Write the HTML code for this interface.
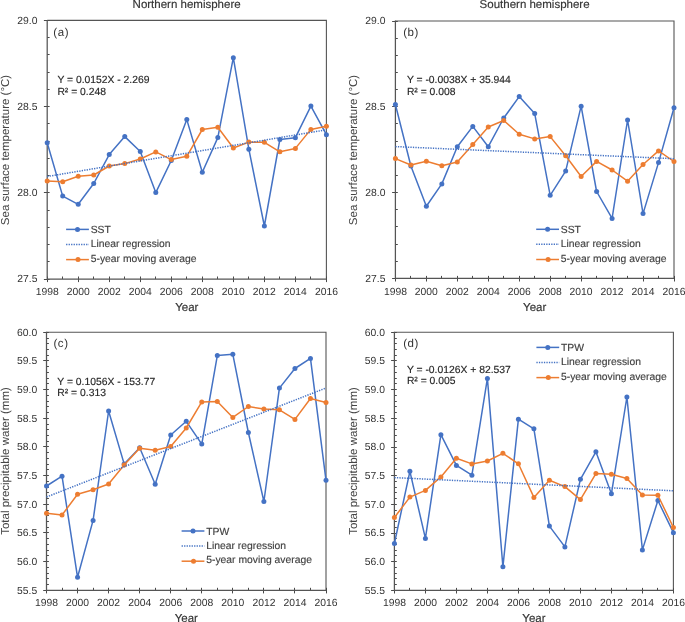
<!DOCTYPE html>
<html><head><meta charset="utf-8"><style>
html,body{margin:0;padding:0;background:#fff;width:685px;height:622px;overflow:hidden}
svg{display:block;font-family:"Liberation Sans", sans-serif;text-rendering:geometricPrecision;will-change:transform}
text{stroke-width:0.15px;stroke-linejoin:round;paint-order:stroke}
</style></head><body>
<svg width="685" height="622" viewBox="0 0 685 622">
<path d="M47.20,20.40H326.40V279.00" fill="none" stroke="#555555" stroke-width="1.1"/>
<path d="M43.90,20.50H49.60M47.20,37.50H49.60M47.20,54.50H49.60M47.20,72.50H49.60M47.20,89.50H49.60M43.90,106.50H49.60M47.20,123.50H49.60M47.20,141.50H49.60M47.20,158.50H49.60M47.20,175.50H49.60M43.90,192.50H49.60M47.20,210.50H49.60M47.20,227.50H49.60M47.20,244.50H49.60M47.20,261.50H49.60M43.90,279.50H49.60M47.50,276.50V282.10M62.50,276.50V279.00M78.50,276.50V282.10M93.50,276.50V279.00M109.50,276.50V282.10M124.50,276.50V279.00M140.50,276.50V282.10M155.50,276.50V279.00M171.50,276.50V282.10M186.50,276.50V279.00M202.50,276.50V282.10M217.50,276.50V279.00M233.50,276.50V282.10M248.50,276.50V279.00M264.50,276.50V282.10M279.50,276.50V279.00M295.50,276.50V282.10M310.50,276.50V279.00M326.50,276.50V282.10" fill="none" stroke="#4a4a4a" stroke-width="1"/>
<path d="M47.20,19.90V279.00H326.40" fill="none" stroke="#555555" stroke-width="1.25"/>
<text x="37.40" y="23.60" font-size="10.35" fill="#333333" text-anchor="end">29.0</text>
<text x="37.40" y="109.80" font-size="10.35" fill="#333333" text-anchor="end">28.5</text>
<text x="37.40" y="196.00" font-size="10.35" fill="#333333" text-anchor="end">28.0</text>
<text x="37.40" y="282.20" font-size="10.35" fill="#333333" text-anchor="end">27.5</text>
<text x="47.20" y="294.60" font-size="10.35" fill="#333333" text-anchor="middle">1998</text>
<text x="78.22" y="294.60" font-size="10.35" fill="#333333" text-anchor="middle">2000</text>
<text x="109.24" y="294.60" font-size="10.35" fill="#333333" text-anchor="middle">2002</text>
<text x="140.27" y="294.60" font-size="10.35" fill="#333333" text-anchor="middle">2004</text>
<text x="171.29" y="294.60" font-size="10.35" fill="#333333" text-anchor="middle">2006</text>
<text x="202.31" y="294.60" font-size="10.35" fill="#333333" text-anchor="middle">2008</text>
<text x="233.33" y="294.60" font-size="10.35" fill="#333333" text-anchor="middle">2010</text>
<text x="264.36" y="294.60" font-size="10.35" fill="#333333" text-anchor="middle">2012</text>
<text x="295.38" y="294.60" font-size="10.35" fill="#333333" text-anchor="middle">2014</text>
<text x="326.40" y="294.60" font-size="10.35" fill="#333333" text-anchor="middle">2016</text>
<polyline points="47.20,142.70 62.71,196.10 78.22,204.30 93.73,183.50 109.24,154.60 124.76,136.60 140.27,151.50 155.78,192.60 171.29,160.50 186.80,119.60 202.31,172.20 217.82,137.60 233.33,57.70 248.84,149.20 264.36,226.00 279.87,139.50 295.38,137.70 310.89,106.10 326.40,134.70" fill="none" stroke="#4472C4" stroke-width="1.5" stroke-linejoin="round"/>
<circle cx="47.20" cy="142.70" r="2.5" fill="#4472C4"/><circle cx="62.71" cy="196.10" r="2.5" fill="#4472C4"/><circle cx="78.22" cy="204.30" r="2.5" fill="#4472C4"/><circle cx="93.73" cy="183.50" r="2.5" fill="#4472C4"/><circle cx="109.24" cy="154.60" r="2.5" fill="#4472C4"/><circle cx="124.76" cy="136.60" r="2.5" fill="#4472C4"/><circle cx="140.27" cy="151.50" r="2.5" fill="#4472C4"/><circle cx="155.78" cy="192.60" r="2.5" fill="#4472C4"/><circle cx="171.29" cy="160.50" r="2.5" fill="#4472C4"/><circle cx="186.80" cy="119.60" r="2.5" fill="#4472C4"/><circle cx="202.31" cy="172.20" r="2.5" fill="#4472C4"/><circle cx="217.82" cy="137.60" r="2.5" fill="#4472C4"/><circle cx="233.33" cy="57.70" r="2.5" fill="#4472C4"/><circle cx="248.84" cy="149.20" r="2.5" fill="#4472C4"/><circle cx="264.36" cy="226.00" r="2.5" fill="#4472C4"/><circle cx="279.87" cy="139.50" r="2.5" fill="#4472C4"/><circle cx="295.38" cy="137.70" r="2.5" fill="#4472C4"/><circle cx="310.89" cy="106.10" r="2.5" fill="#4472C4"/><circle cx="326.40" cy="134.70" r="2.5" fill="#4472C4"/>
<polyline points="47.20,181.10 62.71,181.80 78.22,176.30 93.73,175.00 109.24,166.00 124.76,163.60 140.27,159.00 155.78,151.90 171.29,159.60 186.80,156.30 202.31,129.50 217.82,127.30 233.33,148.00 248.84,142.10 264.36,142.30 279.87,151.80 295.38,148.40 310.89,129.40 326.40,126.20" fill="none" stroke="#ED7D31" stroke-width="1.5" stroke-linejoin="round"/>
<circle cx="47.20" cy="181.10" r="2.5" fill="#ED7D31"/><circle cx="62.71" cy="181.80" r="2.5" fill="#ED7D31"/><circle cx="78.22" cy="176.30" r="2.5" fill="#ED7D31"/><circle cx="93.73" cy="175.00" r="2.5" fill="#ED7D31"/><circle cx="109.24" cy="166.00" r="2.5" fill="#ED7D31"/><circle cx="124.76" cy="163.60" r="2.5" fill="#ED7D31"/><circle cx="140.27" cy="159.00" r="2.5" fill="#ED7D31"/><circle cx="155.78" cy="151.90" r="2.5" fill="#ED7D31"/><circle cx="171.29" cy="159.60" r="2.5" fill="#ED7D31"/><circle cx="186.80" cy="156.30" r="2.5" fill="#ED7D31"/><circle cx="202.31" cy="129.50" r="2.5" fill="#ED7D31"/><circle cx="217.82" cy="127.30" r="2.5" fill="#ED7D31"/><circle cx="233.33" cy="148.00" r="2.5" fill="#ED7D31"/><circle cx="248.84" cy="142.10" r="2.5" fill="#ED7D31"/><circle cx="264.36" cy="142.30" r="2.5" fill="#ED7D31"/><circle cx="279.87" cy="151.80" r="2.5" fill="#ED7D31"/><circle cx="295.38" cy="148.40" r="2.5" fill="#ED7D31"/><circle cx="310.89" cy="129.40" r="2.5" fill="#ED7D31"/><circle cx="326.40" cy="126.20" r="2.5" fill="#ED7D31"/>
<line x1="47.20" y1="176.50" x2="326.40" y2="129.80" stroke="#4472C4" stroke-width="1.5" stroke-dasharray="1.3 1.2"/>
<text x="53.30" y="36.30" font-size="11.5" fill="#333333" text-anchor="start" letter-spacing="0.6">(a)</text>
<text x="57.40" y="83.40" font-size="10.35" fill="#262626" stroke="#262626" text-anchor="start">Y = 0.0152X - 2.269</text>
<text x="57.40" y="94.60" font-size="10.35" fill="#262626" stroke="#262626" text-anchor="start">R² = 0.248</text>
<line x1="66.10" y1="229.40" x2="88.90" y2="229.40" stroke="#4472C4" stroke-width="1.5"/>
<circle cx="77.50" cy="229.40" r="2.5" fill="#4472C4"/>
<line x1="66.10" y1="244.40" x2="88.90" y2="244.40" stroke="#4472C4" stroke-width="1.5" stroke-dasharray="1.3 1.2"/>
<line x1="66.10" y1="259.60" x2="88.90" y2="259.60" stroke="#ED7D31" stroke-width="1.5"/>
<circle cx="78.00" cy="259.60" r="2.5" fill="#ED7D31"/>
<text x="90.70" y="232.90" font-size="10.35" fill="#404040" stroke="#404040" text-anchor="start">SST</text>
<text x="90.70" y="246.90" font-size="10.35" fill="#404040" stroke="#404040" text-anchor="start">Linear regression</text>
<text x="90.70" y="261.70" font-size="10.35" fill="#404040" stroke="#404040" text-anchor="start">5-year moving average</text>
<text x="186.80" y="310.60" font-size="11.5" fill="#333333" stroke="#333333" text-anchor="middle">Year</text>
<path d="M395.40,21.00H674.00V278.40" fill="none" stroke="#555555" stroke-width="1.1"/>
<path d="M392.10,21.50H397.80M395.40,38.50H397.80M395.40,55.50H397.80M395.40,72.50H397.80M395.40,89.50H397.80M392.10,106.50H397.80M395.40,123.50H397.80M395.40,141.50H397.80M395.40,158.50H397.80M395.40,175.50H397.80M392.10,192.50H397.80M395.40,209.50H397.80M395.40,226.50H397.80M395.40,244.50H397.80M395.40,261.50H397.80M392.10,278.50H397.80M395.50,275.90V281.50M410.50,275.90V278.40M426.50,275.90V281.50M441.50,275.90V278.40M457.50,275.90V281.50M472.50,275.90V278.40M488.50,275.90V281.50M503.50,275.90V278.40M519.50,275.90V281.50M534.50,275.90V278.40M550.50,275.90V281.50M565.50,275.90V278.40M581.50,275.90V281.50M596.50,275.90V278.40M612.50,275.90V281.50M627.50,275.90V278.40M643.50,275.90V281.50M658.50,275.90V278.40M674.50,275.90V281.50" fill="none" stroke="#4a4a4a" stroke-width="1"/>
<path d="M395.40,20.50V278.40H674.00" fill="none" stroke="#555555" stroke-width="1.25"/>
<text x="385.40" y="24.20" font-size="10.35" fill="#333333" text-anchor="end">29.0</text>
<text x="385.40" y="110.00" font-size="10.35" fill="#333333" text-anchor="end">28.5</text>
<text x="385.40" y="195.80" font-size="10.35" fill="#333333" text-anchor="end">28.0</text>
<text x="385.40" y="281.60" font-size="10.35" fill="#333333" text-anchor="end">27.5</text>
<text x="395.40" y="294.60" font-size="10.35" fill="#333333" text-anchor="middle">1998</text>
<text x="426.36" y="294.60" font-size="10.35" fill="#333333" text-anchor="middle">2000</text>
<text x="457.31" y="294.60" font-size="10.35" fill="#333333" text-anchor="middle">2002</text>
<text x="488.27" y="294.60" font-size="10.35" fill="#333333" text-anchor="middle">2004</text>
<text x="519.22" y="294.60" font-size="10.35" fill="#333333" text-anchor="middle">2006</text>
<text x="550.18" y="294.60" font-size="10.35" fill="#333333" text-anchor="middle">2008</text>
<text x="581.13" y="294.60" font-size="10.35" fill="#333333" text-anchor="middle">2010</text>
<text x="612.09" y="294.60" font-size="10.35" fill="#333333" text-anchor="middle">2012</text>
<text x="643.04" y="294.60" font-size="10.35" fill="#333333" text-anchor="middle">2014</text>
<text x="674.00" y="294.60" font-size="10.35" fill="#333333" text-anchor="middle">2016</text>
<polyline points="395.40,104.50 410.88,166.00 426.36,206.20 441.83,183.90 457.31,146.80 472.79,126.40 488.27,146.70 503.74,118.00 519.22,96.60 534.70,113.60 550.18,195.30 565.66,171.10 581.13,106.20 596.61,191.50 612.09,218.40 627.57,120.00 643.04,213.60 658.52,162.60 674.00,107.80" fill="none" stroke="#4472C4" stroke-width="1.5" stroke-linejoin="round"/>
<circle cx="395.40" cy="104.50" r="2.5" fill="#4472C4"/><circle cx="410.88" cy="166.00" r="2.5" fill="#4472C4"/><circle cx="426.36" cy="206.20" r="2.5" fill="#4472C4"/><circle cx="441.83" cy="183.90" r="2.5" fill="#4472C4"/><circle cx="457.31" cy="146.80" r="2.5" fill="#4472C4"/><circle cx="472.79" cy="126.40" r="2.5" fill="#4472C4"/><circle cx="488.27" cy="146.70" r="2.5" fill="#4472C4"/><circle cx="503.74" cy="118.00" r="2.5" fill="#4472C4"/><circle cx="519.22" cy="96.60" r="2.5" fill="#4472C4"/><circle cx="534.70" cy="113.60" r="2.5" fill="#4472C4"/><circle cx="550.18" cy="195.30" r="2.5" fill="#4472C4"/><circle cx="565.66" cy="171.10" r="2.5" fill="#4472C4"/><circle cx="581.13" cy="106.20" r="2.5" fill="#4472C4"/><circle cx="596.61" cy="191.50" r="2.5" fill="#4472C4"/><circle cx="612.09" cy="218.40" r="2.5" fill="#4472C4"/><circle cx="627.57" cy="120.00" r="2.5" fill="#4472C4"/><circle cx="643.04" cy="213.60" r="2.5" fill="#4472C4"/><circle cx="658.52" cy="162.60" r="2.5" fill="#4472C4"/><circle cx="674.00" cy="107.80" r="2.5" fill="#4472C4"/>
<polyline points="395.40,158.60 410.88,165.00 426.36,161.30 441.83,165.70 457.31,162.00 472.79,144.50 488.27,127.00 503.74,120.50 519.22,134.30 534.70,138.90 550.18,136.60 565.66,155.80 581.13,176.50 596.61,161.40 612.09,170.00 627.57,181.20 643.04,164.50 658.52,150.90 674.00,161.50" fill="none" stroke="#ED7D31" stroke-width="1.5" stroke-linejoin="round"/>
<circle cx="395.40" cy="158.60" r="2.5" fill="#ED7D31"/><circle cx="410.88" cy="165.00" r="2.5" fill="#ED7D31"/><circle cx="426.36" cy="161.30" r="2.5" fill="#ED7D31"/><circle cx="441.83" cy="165.70" r="2.5" fill="#ED7D31"/><circle cx="457.31" cy="162.00" r="2.5" fill="#ED7D31"/><circle cx="472.79" cy="144.50" r="2.5" fill="#ED7D31"/><circle cx="488.27" cy="127.00" r="2.5" fill="#ED7D31"/><circle cx="503.74" cy="120.50" r="2.5" fill="#ED7D31"/><circle cx="519.22" cy="134.30" r="2.5" fill="#ED7D31"/><circle cx="534.70" cy="138.90" r="2.5" fill="#ED7D31"/><circle cx="550.18" cy="136.60" r="2.5" fill="#ED7D31"/><circle cx="565.66" cy="155.80" r="2.5" fill="#ED7D31"/><circle cx="581.13" cy="176.50" r="2.5" fill="#ED7D31"/><circle cx="596.61" cy="161.40" r="2.5" fill="#ED7D31"/><circle cx="612.09" cy="170.00" r="2.5" fill="#ED7D31"/><circle cx="627.57" cy="181.20" r="2.5" fill="#ED7D31"/><circle cx="643.04" cy="164.50" r="2.5" fill="#ED7D31"/><circle cx="658.52" cy="150.90" r="2.5" fill="#ED7D31"/><circle cx="674.00" cy="161.50" r="2.5" fill="#ED7D31"/>
<line x1="395.40" y1="146.60" x2="674.00" y2="158.70" stroke="#4472C4" stroke-width="1.5" stroke-dasharray="1.3 1.2"/>
<text x="403.20" y="36.10" font-size="11.5" fill="#333333" text-anchor="start" letter-spacing="0.6">(b)</text>
<text x="406.90" y="83.30" font-size="10.35" fill="#262626" stroke="#262626" text-anchor="start">Y = -0.0038X + 35.944</text>
<text x="406.90" y="94.50" font-size="10.35" fill="#262626" stroke="#262626" text-anchor="start">R² = 0.008</text>
<line x1="536.20" y1="229.30" x2="559.00" y2="229.30" stroke="#4472C4" stroke-width="1.5"/>
<circle cx="547.60" cy="229.30" r="2.5" fill="#4472C4"/>
<line x1="536.20" y1="244.30" x2="559.00" y2="244.30" stroke="#4472C4" stroke-width="1.5" stroke-dasharray="1.3 1.2"/>
<line x1="536.20" y1="259.50" x2="559.00" y2="259.50" stroke="#ED7D31" stroke-width="1.5"/>
<circle cx="548.10" cy="259.50" r="2.5" fill="#ED7D31"/>
<text x="560.80" y="232.80" font-size="10.35" fill="#404040" stroke="#404040" text-anchor="start">SST</text>
<text x="560.80" y="246.80" font-size="10.35" fill="#404040" stroke="#404040" text-anchor="start">Linear regression</text>
<text x="560.80" y="261.60" font-size="10.35" fill="#404040" stroke="#404040" text-anchor="start">5-year moving average</text>
<text x="534.70" y="310.60" font-size="11.5" fill="#333333" stroke="#333333" text-anchor="middle">Year</text>
<path d="M46.50,332.30H326.00V590.30" fill="none" stroke="#555555" stroke-width="1.1"/>
<path d="M43.20,332.50H48.90M46.50,338.50H48.90M46.50,343.50H48.90M46.50,349.50H48.90M46.50,355.50H48.90M43.20,360.50H48.90M46.50,366.50H48.90M46.50,372.50H48.90M46.50,378.50H48.90M46.50,383.50H48.90M43.20,389.50H48.90M46.50,395.50H48.90M46.50,401.50H48.90M46.50,406.50H48.90M46.50,412.50H48.90M43.20,418.50H48.90M46.50,424.50H48.90M46.50,429.50H48.90M46.50,435.50H48.90M46.50,441.50H48.90M43.20,446.50H48.90M46.50,452.50H48.90M46.50,458.50H48.90M46.50,464.50H48.90M46.50,469.50H48.90M43.20,475.50H48.90M46.50,481.50H48.90M46.50,487.50H48.90M46.50,492.50H48.90M46.50,498.50H48.90M43.20,504.50H48.90M46.50,510.50H48.90M46.50,515.50H48.90M46.50,521.50H48.90M46.50,527.50H48.90M43.20,532.50H48.90M46.50,538.50H48.90M46.50,544.50H48.90M46.50,550.50H48.90M46.50,555.50H48.90M43.20,561.50H48.90M46.50,567.50H48.90M46.50,573.50H48.90M46.50,578.50H48.90M46.50,584.50H48.90M43.20,590.50H48.90M46.50,587.80V593.40M62.50,587.80V590.30M77.50,587.80V593.40M93.50,587.80V590.30M108.50,587.80V593.40M124.50,587.80V590.30M139.50,587.80V593.40M155.50,587.80V590.30M170.50,587.80V593.40M186.50,587.80V590.30M201.50,587.80V593.40M217.50,587.80V590.30M232.50,587.80V593.40M248.50,587.80V590.30M263.50,587.80V593.40M279.50,587.80V590.30M294.50,587.80V593.40M310.50,587.80V590.30M326.50,587.80V593.40" fill="none" stroke="#4a4a4a" stroke-width="1"/>
<path d="M46.50,331.80V590.30H326.00" fill="none" stroke="#555555" stroke-width="1.25"/>
<text x="37.20" y="335.50" font-size="10.35" fill="#333333" text-anchor="end">60.0</text>
<text x="37.20" y="364.17" font-size="10.35" fill="#333333" text-anchor="end">59.5</text>
<text x="37.20" y="392.83" font-size="10.35" fill="#333333" text-anchor="end">59.0</text>
<text x="37.20" y="421.50" font-size="10.35" fill="#333333" text-anchor="end">58.5</text>
<text x="37.20" y="450.17" font-size="10.35" fill="#333333" text-anchor="end">58.0</text>
<text x="37.20" y="478.83" font-size="10.35" fill="#333333" text-anchor="end">57.5</text>
<text x="37.20" y="507.50" font-size="10.35" fill="#333333" text-anchor="end">57.0</text>
<text x="37.20" y="536.17" font-size="10.35" fill="#333333" text-anchor="end">56.5</text>
<text x="37.20" y="564.83" font-size="10.35" fill="#333333" text-anchor="end">56.0</text>
<text x="37.20" y="593.50" font-size="10.35" fill="#333333" text-anchor="end">55.5</text>
<text x="46.50" y="605.50" font-size="10.35" fill="#333333" text-anchor="middle">1998</text>
<text x="77.56" y="605.50" font-size="10.35" fill="#333333" text-anchor="middle">2000</text>
<text x="108.61" y="605.50" font-size="10.35" fill="#333333" text-anchor="middle">2002</text>
<text x="139.67" y="605.50" font-size="10.35" fill="#333333" text-anchor="middle">2004</text>
<text x="170.72" y="605.50" font-size="10.35" fill="#333333" text-anchor="middle">2006</text>
<text x="201.78" y="605.50" font-size="10.35" fill="#333333" text-anchor="middle">2008</text>
<text x="232.83" y="605.50" font-size="10.35" fill="#333333" text-anchor="middle">2010</text>
<text x="263.89" y="605.50" font-size="10.35" fill="#333333" text-anchor="middle">2012</text>
<text x="294.94" y="605.50" font-size="10.35" fill="#333333" text-anchor="middle">2014</text>
<text x="326.00" y="605.50" font-size="10.35" fill="#333333" text-anchor="middle">2016</text>
<polyline points="46.50,486.00 62.03,476.20 77.56,577.30 93.08,520.40 108.61,411.00 124.14,463.90 139.67,447.80 155.19,484.20 170.72,435.00 186.25,421.30 201.78,444.10 217.31,355.60 232.83,354.30 248.36,432.50 263.89,501.50 279.42,388.10 294.94,368.50 310.47,358.40 326.00,480.30" fill="none" stroke="#4472C4" stroke-width="1.5" stroke-linejoin="round"/>
<circle cx="46.50" cy="486.00" r="2.5" fill="#4472C4"/><circle cx="62.03" cy="476.20" r="2.5" fill="#4472C4"/><circle cx="77.56" cy="577.30" r="2.5" fill="#4472C4"/><circle cx="93.08" cy="520.40" r="2.5" fill="#4472C4"/><circle cx="108.61" cy="411.00" r="2.5" fill="#4472C4"/><circle cx="124.14" cy="463.90" r="2.5" fill="#4472C4"/><circle cx="139.67" cy="447.80" r="2.5" fill="#4472C4"/><circle cx="155.19" cy="484.20" r="2.5" fill="#4472C4"/><circle cx="170.72" cy="435.00" r="2.5" fill="#4472C4"/><circle cx="186.25" cy="421.30" r="2.5" fill="#4472C4"/><circle cx="201.78" cy="444.10" r="2.5" fill="#4472C4"/><circle cx="217.31" cy="355.60" r="2.5" fill="#4472C4"/><circle cx="232.83" cy="354.30" r="2.5" fill="#4472C4"/><circle cx="248.36" cy="432.50" r="2.5" fill="#4472C4"/><circle cx="263.89" cy="501.50" r="2.5" fill="#4472C4"/><circle cx="279.42" cy="388.10" r="2.5" fill="#4472C4"/><circle cx="294.94" cy="368.50" r="2.5" fill="#4472C4"/><circle cx="310.47" cy="358.40" r="2.5" fill="#4472C4"/><circle cx="326.00" cy="480.30" r="2.5" fill="#4472C4"/>
<polyline points="46.50,513.20 62.03,515.00 77.56,494.30 93.08,489.80 108.61,484.00 124.14,465.10 139.67,448.30 155.19,450.20 170.72,446.50 186.25,428.00 201.78,401.90 217.31,401.50 232.83,417.40 248.36,406.50 263.89,409.00 279.42,409.80 294.94,419.40 310.47,398.50 326.00,402.40" fill="none" stroke="#ED7D31" stroke-width="1.5" stroke-linejoin="round"/>
<circle cx="46.50" cy="513.20" r="2.5" fill="#ED7D31"/><circle cx="62.03" cy="515.00" r="2.5" fill="#ED7D31"/><circle cx="77.56" cy="494.30" r="2.5" fill="#ED7D31"/><circle cx="93.08" cy="489.80" r="2.5" fill="#ED7D31"/><circle cx="108.61" cy="484.00" r="2.5" fill="#ED7D31"/><circle cx="124.14" cy="465.10" r="2.5" fill="#ED7D31"/><circle cx="139.67" cy="448.30" r="2.5" fill="#ED7D31"/><circle cx="155.19" cy="450.20" r="2.5" fill="#ED7D31"/><circle cx="170.72" cy="446.50" r="2.5" fill="#ED7D31"/><circle cx="186.25" cy="428.00" r="2.5" fill="#ED7D31"/><circle cx="201.78" cy="401.90" r="2.5" fill="#ED7D31"/><circle cx="217.31" cy="401.50" r="2.5" fill="#ED7D31"/><circle cx="232.83" cy="417.40" r="2.5" fill="#ED7D31"/><circle cx="248.36" cy="406.50" r="2.5" fill="#ED7D31"/><circle cx="263.89" cy="409.00" r="2.5" fill="#ED7D31"/><circle cx="279.42" cy="409.80" r="2.5" fill="#ED7D31"/><circle cx="294.94" cy="419.40" r="2.5" fill="#ED7D31"/><circle cx="310.47" cy="398.50" r="2.5" fill="#ED7D31"/><circle cx="326.00" cy="402.40" r="2.5" fill="#ED7D31"/>
<line x1="46.50" y1="497.00" x2="326.00" y2="388.00" stroke="#4472C4" stroke-width="1.5" stroke-dasharray="1.3 1.2"/>
<text x="53.40" y="347.10" font-size="11.5" fill="#333333" text-anchor="start" letter-spacing="0.6">(c)</text>
<text x="57.30" y="384.50" font-size="10.35" fill="#262626" stroke="#262626" text-anchor="start">Y = 0.1056X - 153.77</text>
<text x="57.30" y="395.70" font-size="10.35" fill="#262626" stroke="#262626" text-anchor="start">R² = 0.313</text>
<line x1="181.60" y1="531.00" x2="204.40" y2="531.00" stroke="#4472C4" stroke-width="1.5"/>
<circle cx="193.00" cy="531.00" r="2.5" fill="#4472C4"/>
<line x1="181.60" y1="546.00" x2="204.40" y2="546.00" stroke="#4472C4" stroke-width="1.5" stroke-dasharray="1.3 1.2"/>
<line x1="181.60" y1="561.20" x2="204.40" y2="561.20" stroke="#ED7D31" stroke-width="1.5"/>
<circle cx="193.50" cy="561.20" r="2.5" fill="#ED7D31"/>
<text x="206.20" y="534.50" font-size="10.35" fill="#404040" stroke="#404040" text-anchor="start">TPW</text>
<text x="206.20" y="548.50" font-size="10.35" fill="#404040" stroke="#404040" text-anchor="start">Linear regression</text>
<text x="206.20" y="563.30" font-size="10.35" fill="#404040" stroke="#404040" text-anchor="start">5-year moving average</text>
<text x="186.25" y="621.50" font-size="11.5" fill="#333333" stroke="#333333" text-anchor="middle">Year</text>
<path d="M394.40,332.30H673.40V590.40" fill="none" stroke="#555555" stroke-width="1.1"/>
<path d="M391.10,332.50H396.80M394.40,338.50H396.80M394.40,343.50H396.80M394.40,349.50H396.80M394.40,355.50H396.80M391.10,360.50H396.80M394.40,366.50H396.80M394.40,372.50H396.80M394.40,378.50H396.80M394.40,383.50H396.80M391.10,389.50H396.80M394.40,395.50H396.80M394.40,401.50H396.80M394.40,406.50H396.80M394.40,412.50H396.80M391.10,418.50H396.80M394.40,424.50H396.80M394.40,429.50H396.80M394.40,435.50H396.80M394.40,441.50H396.80M391.10,447.50H396.80M394.40,452.50H396.80M394.40,458.50H396.80M394.40,464.50H396.80M394.40,469.50H396.80M391.10,475.50H396.80M394.40,481.50H396.80M394.40,487.50H396.80M394.40,492.50H396.80M394.40,498.50H396.80M391.10,504.50H396.80M394.40,510.50H396.80M394.40,515.50H396.80M394.40,521.50H396.80M394.40,527.50H396.80M391.10,533.50H396.80M394.40,538.50H396.80M394.40,544.50H396.80M394.40,550.50H396.80M394.40,555.50H396.80M391.10,561.50H396.80M394.40,567.50H396.80M394.40,573.50H396.80M394.40,578.50H396.80M394.40,584.50H396.80M391.10,590.50H396.80M394.50,587.90V593.50M409.50,587.90V590.40M425.50,587.90V593.50M440.50,587.90V590.40M456.50,587.90V593.50M471.50,587.90V590.40M487.50,587.90V593.50M502.50,587.90V590.40M518.50,587.90V593.50M533.50,587.90V590.40M549.50,587.90V593.50M564.50,587.90V590.40M580.50,587.90V593.50M595.50,587.90V590.40M611.50,587.90V593.50M626.50,587.90V590.40M642.50,587.90V593.50M657.50,587.90V590.40M673.50,587.90V593.50" fill="none" stroke="#4a4a4a" stroke-width="1"/>
<path d="M394.40,331.80V590.40H673.40" fill="none" stroke="#555555" stroke-width="1.25"/>
<text x="384.90" y="335.50" font-size="10.35" fill="#333333" text-anchor="end">60.0</text>
<text x="384.90" y="364.18" font-size="10.35" fill="#333333" text-anchor="end">59.5</text>
<text x="384.90" y="392.86" font-size="10.35" fill="#333333" text-anchor="end">59.0</text>
<text x="384.90" y="421.53" font-size="10.35" fill="#333333" text-anchor="end">58.5</text>
<text x="384.90" y="450.21" font-size="10.35" fill="#333333" text-anchor="end">58.0</text>
<text x="384.90" y="478.89" font-size="10.35" fill="#333333" text-anchor="end">57.5</text>
<text x="384.90" y="507.57" font-size="10.35" fill="#333333" text-anchor="end">57.0</text>
<text x="384.90" y="536.24" font-size="10.35" fill="#333333" text-anchor="end">56.5</text>
<text x="384.90" y="564.92" font-size="10.35" fill="#333333" text-anchor="end">56.0</text>
<text x="384.90" y="593.60" font-size="10.35" fill="#333333" text-anchor="end">55.5</text>
<text x="394.40" y="605.50" font-size="10.35" fill="#333333" text-anchor="middle">1998</text>
<text x="425.40" y="605.50" font-size="10.35" fill="#333333" text-anchor="middle">2000</text>
<text x="456.40" y="605.50" font-size="10.35" fill="#333333" text-anchor="middle">2002</text>
<text x="487.40" y="605.50" font-size="10.35" fill="#333333" text-anchor="middle">2004</text>
<text x="518.40" y="605.50" font-size="10.35" fill="#333333" text-anchor="middle">2006</text>
<text x="549.40" y="605.50" font-size="10.35" fill="#333333" text-anchor="middle">2008</text>
<text x="580.40" y="605.50" font-size="10.35" fill="#333333" text-anchor="middle">2010</text>
<text x="611.40" y="605.50" font-size="10.35" fill="#333333" text-anchor="middle">2012</text>
<text x="642.40" y="605.50" font-size="10.35" fill="#333333" text-anchor="middle">2014</text>
<text x="673.40" y="605.50" font-size="10.35" fill="#333333" text-anchor="middle">2016</text>
<polyline points="394.40,543.50 409.90,471.30 425.40,538.40 440.90,434.70 456.40,465.40 471.90,475.20 487.40,378.40 502.90,566.80 518.40,419.20 533.90,428.80 549.40,526.10 564.90,546.90 580.40,479.30 595.90,451.80 611.40,493.80 626.90,397.00 642.40,549.90 657.90,500.50 673.40,532.70" fill="none" stroke="#4472C4" stroke-width="1.5" stroke-linejoin="round"/>
<circle cx="394.40" cy="543.50" r="2.5" fill="#4472C4"/><circle cx="409.90" cy="471.30" r="2.5" fill="#4472C4"/><circle cx="425.40" cy="538.40" r="2.5" fill="#4472C4"/><circle cx="440.90" cy="434.70" r="2.5" fill="#4472C4"/><circle cx="456.40" cy="465.40" r="2.5" fill="#4472C4"/><circle cx="471.90" cy="475.20" r="2.5" fill="#4472C4"/><circle cx="487.40" cy="378.40" r="2.5" fill="#4472C4"/><circle cx="502.90" cy="566.80" r="2.5" fill="#4472C4"/><circle cx="518.40" cy="419.20" r="2.5" fill="#4472C4"/><circle cx="533.90" cy="428.80" r="2.5" fill="#4472C4"/><circle cx="549.40" cy="526.10" r="2.5" fill="#4472C4"/><circle cx="564.90" cy="546.90" r="2.5" fill="#4472C4"/><circle cx="580.40" cy="479.30" r="2.5" fill="#4472C4"/><circle cx="595.90" cy="451.80" r="2.5" fill="#4472C4"/><circle cx="611.40" cy="493.80" r="2.5" fill="#4472C4"/><circle cx="626.90" cy="397.00" r="2.5" fill="#4472C4"/><circle cx="642.40" cy="549.90" r="2.5" fill="#4472C4"/><circle cx="657.90" cy="500.50" r="2.5" fill="#4472C4"/><circle cx="673.40" cy="532.70" r="2.5" fill="#4472C4"/>
<polyline points="394.40,517.50 409.90,497.10 425.40,490.40 440.90,476.90 456.40,458.20 471.90,463.90 487.40,461.00 502.90,453.30 518.40,463.80 533.90,497.40 549.40,480.20 564.90,486.60 580.40,499.60 595.90,473.60 611.40,474.30 626.90,478.50 642.40,495.00 657.90,495.20 673.40,527.50" fill="none" stroke="#ED7D31" stroke-width="1.5" stroke-linejoin="round"/>
<circle cx="394.40" cy="517.50" r="2.5" fill="#ED7D31"/><circle cx="409.90" cy="497.10" r="2.5" fill="#ED7D31"/><circle cx="425.40" cy="490.40" r="2.5" fill="#ED7D31"/><circle cx="440.90" cy="476.90" r="2.5" fill="#ED7D31"/><circle cx="456.40" cy="458.20" r="2.5" fill="#ED7D31"/><circle cx="471.90" cy="463.90" r="2.5" fill="#ED7D31"/><circle cx="487.40" cy="461.00" r="2.5" fill="#ED7D31"/><circle cx="502.90" cy="453.30" r="2.5" fill="#ED7D31"/><circle cx="518.40" cy="463.80" r="2.5" fill="#ED7D31"/><circle cx="533.90" cy="497.40" r="2.5" fill="#ED7D31"/><circle cx="549.40" cy="480.20" r="2.5" fill="#ED7D31"/><circle cx="564.90" cy="486.60" r="2.5" fill="#ED7D31"/><circle cx="580.40" cy="499.60" r="2.5" fill="#ED7D31"/><circle cx="595.90" cy="473.60" r="2.5" fill="#ED7D31"/><circle cx="611.40" cy="474.30" r="2.5" fill="#ED7D31"/><circle cx="626.90" cy="478.50" r="2.5" fill="#ED7D31"/><circle cx="642.40" cy="495.00" r="2.5" fill="#ED7D31"/><circle cx="657.90" cy="495.20" r="2.5" fill="#ED7D31"/><circle cx="673.40" cy="527.50" r="2.5" fill="#ED7D31"/>
<line x1="394.40" y1="477.60" x2="673.40" y2="490.80" stroke="#4472C4" stroke-width="1.5" stroke-dasharray="1.3 1.2"/>
<text x="403.20" y="347.10" font-size="11.5" fill="#333333" text-anchor="start" letter-spacing="0.6">(d)</text>
<text x="406.90" y="372.90" font-size="10.35" fill="#262626" stroke="#262626" text-anchor="start">Y = -0.0126X + 82.537</text>
<text x="406.90" y="384.10" font-size="10.35" fill="#262626" stroke="#262626" text-anchor="start">R² = 0.005</text>
<line x1="536.40" y1="347.40" x2="559.20" y2="347.40" stroke="#4472C4" stroke-width="1.5"/>
<circle cx="547.80" cy="347.40" r="2.5" fill="#4472C4"/>
<line x1="536.40" y1="362.40" x2="559.20" y2="362.40" stroke="#4472C4" stroke-width="1.5" stroke-dasharray="1.3 1.2"/>
<line x1="536.40" y1="377.60" x2="559.20" y2="377.60" stroke="#ED7D31" stroke-width="1.5"/>
<circle cx="548.30" cy="377.60" r="2.5" fill="#ED7D31"/>
<text x="561.00" y="350.90" font-size="10.35" fill="#404040" stroke="#404040" text-anchor="start">TPW</text>
<text x="561.00" y="364.90" font-size="10.35" fill="#404040" stroke="#404040" text-anchor="start">Linear regression</text>
<text x="561.00" y="379.70" font-size="10.35" fill="#404040" stroke="#404040" text-anchor="start">5-year moving average</text>
<text x="533.90" y="621.50" font-size="11.5" fill="#333333" stroke="#333333" text-anchor="middle">Year</text>
<text x="186.60" y="8.20" font-size="11.5" fill="#333333" stroke="#333333" text-anchor="middle">Northern hemisphere</text>
<text x="534.60" y="8.20" font-size="11.5" fill="#333333" stroke="#333333" text-anchor="middle">Southern hemisphere</text>
<text transform="translate(9.30,150.00) rotate(-90)" x="0" y="0" font-size="11.5" fill="#454545" text-anchor="middle">Sea surface temperature (°C)</text>
<text transform="translate(357.30,150.00) rotate(-90)" x="0" y="0" font-size="11.5" fill="#454545" text-anchor="middle">Sea surface temperature (°C)</text>
<text transform="translate(9.30,461.00) rotate(-90)" x="0" y="0" font-size="11.5" fill="#454545" text-anchor="middle">Total precipitable water (mm)</text>
<text transform="translate(357.30,461.00) rotate(-90)" x="0" y="0" font-size="11.5" fill="#454545" text-anchor="middle">Total precipitable water (mm)</text>
</svg>
</body></html>
